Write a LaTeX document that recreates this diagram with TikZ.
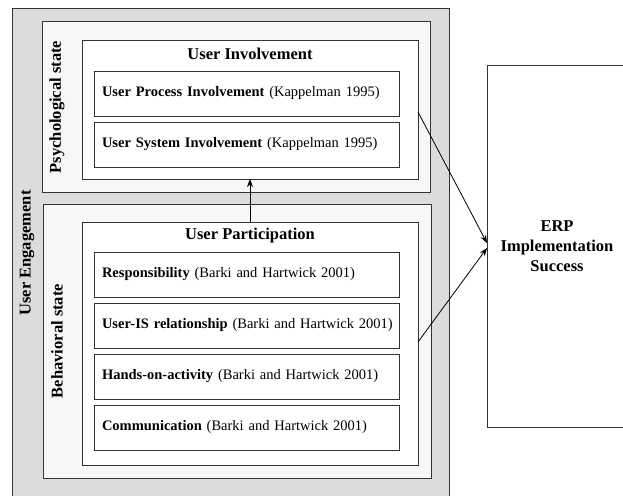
\documentclass[tikz,border=0pt]{standalone}
\usepackage{fontspec}
\setmainfont{Liberation Serif}
\usetikzlibrary{arrows.meta}
\definecolor{outerfill}{HTML}{DCDCDC}
\definecolor{statefill}{HTML}{F7F7F7}
\definecolor{edge}{HTML}{333333}
\newcommand{\itemline}[1]{\makebox[289pt][l]{#1}}
\tikzset{
  box/.style={draw=edge, line width=0.9pt, inner sep=0pt, outer sep=0pt, anchor=north west},
  itembox/.style={draw=edge, line width=0.9pt, fill=white, anchor=north west, minimum height=45pt,
     text width=289pt, inner xsep=8pt, inner ysep=0pt, outer sep=0pt, align=left,
     font=\fontsize{14.5}{17}\selectfont},
  titletext/.style={font=\fontsize{16.5}{20}\selectfont\bfseries},
  sidetext/.style={font=\fontsize{16.5}{20}\selectfont\bfseries, rotate=90},
  conn/.style={line width=0.8pt, -{Stealth[length=8pt,width=6pt]}}
}
\begin{document}
\begin{tikzpicture}[x=1pt,y=-1pt]
\useasboundingbox (0,0) rectangle (623,495);
% outer engagement box
\node[box, fill=outerfill, minimum width=437pt, minimum height=492pt] (eng) at (12,8) {};
\node[sidetext] (englab) at (27,253) {User Engagement};
% psychological state
\node[box, fill=statefill, minimum width=388pt, minimum height=171pt] (psy) at (42,21) {};
\node[sidetext] (psylab) at (57,107) {Psychological state};
\node[box, fill=white, minimum width=336pt, minimum height=139pt] (ui) at (82,40) {};
\node[titletext] (uit) at (250,54) {User Involvement};
\node[itembox] (upi) at (94,71) {\itemline{\textbf{User Process Involvement} (Kappelman 1995)}};
\node[itembox] (usi) at (94,122) {\itemline{\textbf{User System Involvement} (Kappelman 1995)}};
% behavioral state
\node[box, fill=statefill, minimum width=388pt, minimum height=274pt] (beh) at (43,204) {};
\node[sidetext] (behlab) at (57,341) {Behavioral state};
\node[box, fill=white, minimum width=336pt, minimum height=243pt] (up) at (82,222) {};
\node[titletext] (upt) at (250,236) {User Participation};
\node[itembox] (resp) at (94,252) {\itemline{\textbf{Responsibility} (Barki and Hartwick 2001)}};
\node[itembox] (uis) at (94,303) {\itemline{\textbf{User-IS relationship} (Barki and Hartwick 2001)}};
\node[itembox] (hoa) at (94,354) {\itemline{\textbf{Hands-on-activity} (Barki and Hartwick 2001)}};
\node[itembox] (comm) at (94,405) {\itemline{\textbf{Communication} (Barki and Hartwick 2001)}};
% ERP box
\node[box, fill=white, minimum width=137pt, minimum height=362pt] (erp) at (487,65) {};
\node[titletext, align=center] (erpt) at (557,246) {ERP\\Implementation\\Success};
% connectors
\draw[conn] (up.north) -- (ui.south);
\draw[conn] ([yshift=-2.5pt]ui.east) -- ([yshift=3pt]erp.west);
\draw[conn] ([yshift=1.5pt]up.east) -- ([yshift=-2pt]erp.west);
\end{tikzpicture}
\end{document}
